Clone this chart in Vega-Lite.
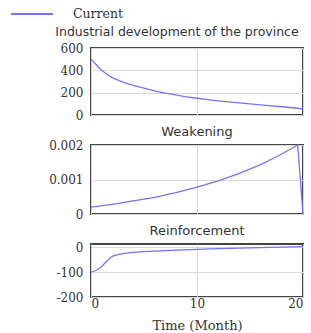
{
  "$schema": "https://vega.github.io/schema/vega-lite/v6.json",
  "padding": {"left": 10, "top": -8, "right": 0, "bottom": 0},
  "background": "white",
  "datasets": {
    "industry": [
      {"t": 0, "v": 500, "s": "Current"}, {"t": 0.5, "v": 450, "s": "Current"}, {"t": 1, "v": 400, "s": "Current"},
      {"t": 1.5, "v": 365, "s": "Current"}, {"t": 2, "v": 335, "s": "Current"}, {"t": 3, "v": 295, "s": "Current"},
      {"t": 4, "v": 265, "s": "Current"}, {"t": 5, "v": 240, "s": "Current"}, {"t": 6, "v": 217, "s": "Current"},
      {"t": 7, "v": 196, "s": "Current"}, {"t": 8, "v": 180, "s": "Current"}, {"t": 9, "v": 163, "s": "Current"},
      {"t": 10, "v": 150, "s": "Current"}, {"t": 11, "v": 138, "s": "Current"}, {"t": 12, "v": 127, "s": "Current"},
      {"t": 13, "v": 117, "s": "Current"}, {"t": 14, "v": 108, "s": "Current"}, {"t": 15, "v": 99, "s": "Current"},
      {"t": 16, "v": 90, "s": "Current"}, {"t": 17, "v": 82, "s": "Current"}, {"t": 18, "v": 74, "s": "Current"},
      {"t": 19, "v": 65, "s": "Current"}, {"t": 20, "v": 55, "s": "Current"}
    ],
    "weak": [
      {"t": 0, "v": 0.0002, "s": "Current"}, {"t": 2, "v": 0.00028, "s": "Current"}, {"t": 4, "v": 0.00038, "s": "Current"},
      {"t": 6, "v": 0.00048, "s": "Current"}, {"t": 8, "v": 0.00062, "s": "Current"}, {"t": 10, "v": 0.00078, "s": "Current"},
      {"t": 12, "v": 0.00096, "s": "Current"}, {"t": 14, "v": 0.00118, "s": "Current"}, {"t": 16, "v": 0.00143, "s": "Current"},
      {"t": 18, "v": 0.00174, "s": "Current"}, {"t": 19.5, "v": 0.002, "s": "Current"}, {"t": 20, "v": 0, "s": "Current"}
    ],
    "reinf": [
      {"t": 0, "v": -100, "s": "Current"}, {"t": 0.5, "v": -92, "s": "Current"}, {"t": 1, "v": -78, "s": "Current"},
      {"t": 1.5, "v": -55, "s": "Current"}, {"t": 2, "v": -36, "s": "Current"}, {"t": 2.5, "v": -29, "s": "Current"},
      {"t": 3, "v": -25, "s": "Current"}, {"t": 4, "v": -20, "s": "Current"}, {"t": 5, "v": -17, "s": "Current"},
      {"t": 6, "v": -15, "s": "Current"}, {"t": 7, "v": -13, "s": "Current"}, {"t": 8, "v": -11, "s": "Current"},
      {"t": 10, "v": -8, "s": "Current"}, {"t": 12, "v": -5, "s": "Current"}, {"t": 14, "v": -3, "s": "Current"},
      {"t": 16, "v": -1, "s": "Current"}, {"t": 18, "v": 1, "s": "Current"}, {"t": 20, "v": 3, "s": "Current"}
    ]
  },
  "config": {
    "view": {"stroke": "#444", "strokeWidth": 2},
    "axis": {
      "labelFont": "DejaVu Serif", "labelFontSize": 12, "labelColor": "#333",
      "titleFont": "DejaVu Serif", "titleFontSize": 13, "titleFontWeight": "normal", "titleColor": "#333",
      "domain": false, "ticks": false, "gridColor": "#d8d8d8", "gridWidth": 1
    },
    "axisY": {"labelPadding": 8},
    "axisX": {"labelPadding": 1},
    "title": {"font": "DejaVu Sans", "fontSize": 13, "fontWeight": "normal", "color": "#333", "anchor": "middle"},
    "legend": {"labelFont": "DejaVu Serif", "labelFontSize": 12.5, "labelColor": "#333"},
    "concat": {"spacing": 3}
  },
  "vconcat": [
    {
      "width": 212, "height": 67,
      "title": {"text": "Industrial development of the province", "offset": 4, "dx": -20, "fontSize": 12.5},
      "data": {"name": "industry"},
      "mark": {"type": "line", "strokeWidth": 1.3},
      "encoding": {
        "x": {"field": "t", "type": "quantitative", "scale": {"domain": [0, 20], "nice": false},
              "axis": {"values": [0, 10, 20], "labels": false, "title": null}},
        "y": {"field": "v", "type": "quantitative", "scale": {"domain": [0, 600], "nice": false},
              "axis": {"values": [0, 200, 400, 600], "title": null}},
        "color": {"field": "s", "type": "nominal", "scale": {"range": ["#7373ff"]},
                  "legend": {"title": null, "orient": "none", "legendX": -81, "legendY": -56,
                             "symbolType": "stroke", "symbolSize": 1764, "symbolStrokeWidth": 2, "labelOffset": 19}}
      }
    },
    {
      "width": 212, "height": 69,
      "title": {"text": "Weakening", "offset": 0},
      "data": {"name": "weak"},
      "mark": {"type": "line", "strokeWidth": 1.3},
      "encoding": {
        "x": {"field": "t", "type": "quantitative", "scale": {"domain": [0, 20], "nice": false},
              "axis": {"values": [0, 10, 20], "labels": false, "title": null}},
        "y": {"field": "v", "type": "quantitative", "scale": {"domain": [0, 0.002], "nice": false},
              "axis": {"values": [0, 0.001, 0.002], "format": "~g", "title": null}},
        "color": {"field": "s", "type": "nominal", "scale": {"range": ["#7373ff"]}}
      }
    },
    {
      "width": 212, "height": 53,
      "title": {"text": "Reinforcement", "offset": 3},
      "data": {"name": "reinf"},
      "mark": {"type": "line", "strokeWidth": 1.3},
      "encoding": {
        "x": {"field": "t", "type": "quantitative", "scale": {"domain": [0, 20], "nice": false},
              "axis": {"values": [0, 10, 20], "title": "Time (Month)", "titlePadding": 10}},
        "y": {"field": "v", "type": "quantitative", "scale": {"domain": [-200, 14], "nice": false},
              "axis": {"values": [-200, -100, 0], "title": null, "labelExpr": "replace(datum.label, '\u2212', '-')"}},
        "color": {"field": "s", "type": "nominal", "scale": {"range": ["#7373ff"]}}
      }
    }
  ]
}
